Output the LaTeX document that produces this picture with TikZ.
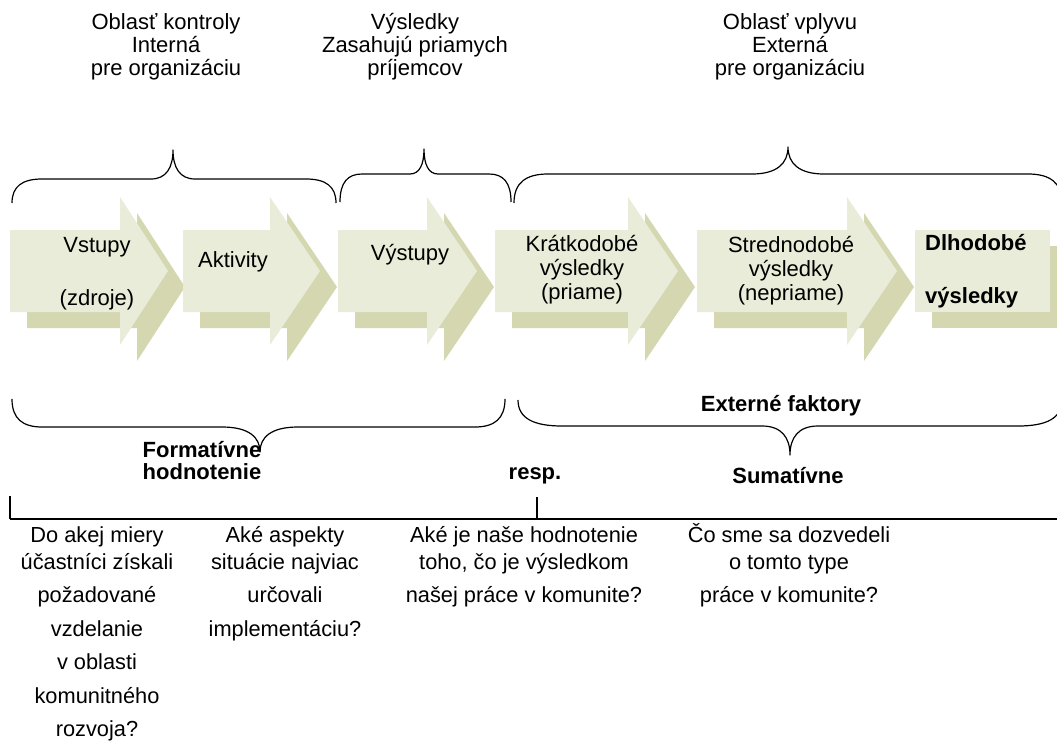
\documentclass[tikz,border=0pt]{standalone}
\usepackage{fontspec}
\setmainfont{Liberation Sans}
\definecolor{arrowfront}{RGB}{233,236,216}
\definecolor{arrowshade}{RGB}{212,215,176}
% curly brace: x0, xtip, x1, yend, yline, ytip, end-curve width, mid-curve width
\newcommand{\cbrace}[8]{%
  \draw[bracestroke] (#1,#4) .. controls (#1,{#5+0.3*(#4-#5)}) and ({#1+0.35*#7},#5) .. ({#1+#7},#5)
    -- ({#2-#8},#5) .. controls ({#2-0.3*#8},#5) and (#2,{#5+0.4*(#6-#5)}) .. (#2,#6)
    .. controls (#2,{#5+0.4*(#6-#5)}) and ({#2+0.3*#8},#5) .. ({#2+#8},#5)
    -- ({#3-#7},#5) .. controls ({#3-0.35*#7},#5) and (#3,{#5+0.3*(#4-#5)}) .. (#3,#4);}
% block arrow with its offset shadow: left edge, head base, tip
\newcommand{\flowarrow}[3]{%
  \fill[arrowshade] ({#1+17},246) -- ({#2+17},246) -- ({#2+17},213) -- ({#3+17},287)
    -- ({#2+17},361) -- ({#2+17},328) -- ({#1+17},328) -- cycle;
  \fill[arrowfront] (#1,230) -- (#2,230) -- (#2,197) -- (#3,271)
    -- (#2,345) -- (#2,312) -- (#1,312) -- cycle;}
\begin{document}
\begin{tikzpicture}[x=1pt,y=-1pt,
  bracestroke/.style={draw=black,line width=1.2pt,line join=round},
  rulestroke/.style={draw=black,line width=2pt},
  lbl/.style={font=\fontsize{22}{24}\selectfont,align=center,inner sep=0pt},
  blbl/.style={font=\fontsize{22}{23}\selectfont\bfseries,align=center,inner sep=0pt},
  qlbl/.style={font=\fontsize{21.8}{27}\selectfont,align=center,inner sep=0pt,anchor=north}]
\useasboundingbox (0,0) rectangle (1057,750);
\clip (0,0) rectangle (1057,750);

% top headings
\node[lbl,font=\fontsize{22}{23}\selectfont] (hctrl) at (166,47) {Oblasť kontroly\\Interná\\pre organizáciu};
\node[lbl,font=\fontsize{22}{23}\selectfont] (hres) at (415,47) {Výsledky\\Zasahujú priamych\\príjemcov};
\node[lbl,font=\fontsize{22}{23}\selectfont] (hinf) at (790,47) {Oblasť vplyvu\\Externá\\pre organizáciu};

% top braces
\cbrace{12}{173}{336}{203}{179}{150}{30}{22}
\cbrace{340}{424}{511}{202}{174}{149}{22}{14}
\cbrace{514}{788}{1062}{203}{174}{147}{34}{36}

% chain of block arrows
\flowarrow{10}{120}{168}
\flowarrow{183}{270}{320}
\flowarrow{338}{427}{477}
\flowarrow{495}{628}{678}
\flowarrow{697}{847}{897}
\fill[arrowshade] (932,246) rectangle (1075,328);
\fill[arrowfront] (915,230) rectangle (1050,312);

% arrow labels
\node[lbl] (inp) at (97,273.5) {Vstupy\\[29pt](zdroje)};
\node[lbl] (act) at (233,262) {Aktivity};
\node[lbl] (outp) at (410,255) {Výstupy};
\node[lbl] (short) at (582,270) {Krátkodobé\\výsledky\\(priame)};
\node[lbl] (mid) at (791,271) {Strednodobé\\výsledky\\(nepriame)};
\node[blbl,align=left,anchor=west] (long) at (925,271.5) {Dlhodobé\\[30pt]výsledky};

% bottom braces and their labels
\cbrace{12}{260}{505}{399}{427}{452}{30}{38}
\cbrace{518}{790}{1062}{400}{426}{455}{44}{28}
\node[blbl] (ext) at (781,406) {Externé faktory};
\node[blbl,font=\fontsize{22}{22}\selectfont\bfseries] (form) at (202,461) {Formatívne\\hodnotenie};
\node[blbl] (resp) at (535,476) {resp.};
\node[blbl] (summ) at (788,476) {Sumatívne};

% time rule with ticks
\coordinate (rl) at (10,519);
\coordinate (rr) at (1057,519);
\coordinate (tl) at (10,496);
\coordinate (tm) at (537,497);
\draw[rulestroke] (rl) -- (rr);
\draw[rulestroke] (tl) -- (rl);
\draw[rulestroke] (tm) -- (537,519);

% evaluation questions
\node[qlbl] (q1) at (97,522) {\rule{0pt}{20pt}Do akej miery\\účastníci získali\\[6.5pt]požadované\\[6.5pt]vzdelanie\\[6.5pt]v oblasti\\[6.5pt]komunitného\\[6.5pt]rozvoja?};
\node[qlbl] (q2) at (285,522) {\rule{0pt}{20pt}Aké aspekty\\situácie najviac\\[6.5pt]určovali\\[6.5pt]implementáciu?};
\node[qlbl] (q3) at (524,522) {\rule{0pt}{20pt}Aké je naše hodnotenie\\toho, čo je výsledkom\\[6.5pt]našej práce v komunite?};
\node[qlbl] (q4) at (789,522) {\rule{0pt}{20pt}Čo sme sa dozvedeli\\o tomto type\\[6.5pt]práce v komunite?};
\end{tikzpicture}
\end{document}
